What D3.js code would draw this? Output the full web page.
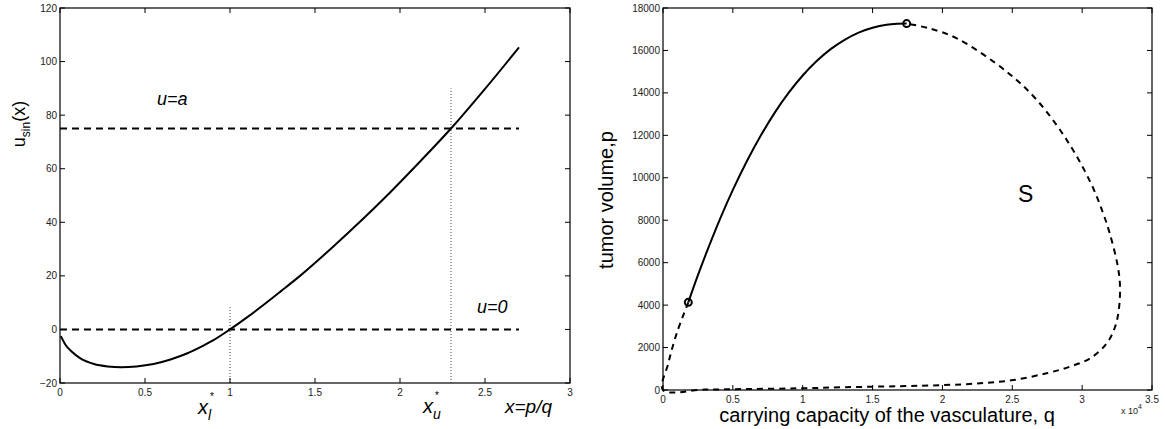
<!DOCTYPE html>
<html>
<head>
<meta charset="utf-8">
<script src="https://cdn.jsdelivr.net/npm/d3@7"></script>
<style>
  body { margin: 0; background: #fff; }
  svg { display: block; font-family: "Liberation Sans", Arial, sans-serif; }
  .tick-label { font-size: 10px; fill: #222; }
</style>
</head>
<body>
<div id="chart"></div>
<script>
// --- left panel data: singular control u_sin(x), x = p/q ---
const uSinX = [0.005, 0.03, 0.07, 0.12, 0.2, 0.28, 0.36, 0.45, 0.55, 0.65, 0.75, 0.82, 0.9, 1.0,
  1.1, 1.2, 1.3, 1.41, 1.6, 1.78, 1.9, 2.1, 2.3, 2.5, 2.7];
const uSinY = [-2.5, -5.5, -8.3, -10.8, -12.9, -13.8, -14.1, -13.8, -12.9, -11.2, -8.9, -6.8, -4.1, 0,
  4.5, 9.3, 14.3, 19.9, 30.5, 41.1, 48.5, 61.5, 75, 89.8, 105.3];
const levels = [75, 0];             // u = a, u = 0
const levelEnd = 2.7;
const xStars = [1, 2.3];            // x_l*, x_u*
const xStarTops = [8.5, 90];
const leftXTicks = [0, 0.5, 1, 1.5, 2, 2.5, 3];
const leftYTicks = [-20, 0, 20, 40, 60, 80, 100, 120];

// --- right panel data: singular arc in (q, p) ---
const solidQ = [1810, 2500, 3300, 4100, 5000, 6000, 7000, 8000, 9000, 10000, 11000, 12000, 13000, 14000,
  15000, 16000, 16800, 17440];
const solidP = [4130, 5410, 6790, 8090, 9430, 10780, 11990, 13070, 14010, 14820, 15500, 16060, 16500, 16840,
  17070, 17210, 17255, 17265];
const dashQ = [1810, 980, 380, 0, 3000, 6000, 9800, 13000, 16960, 20060, 22690, 25080, 27460, 29130, 30570,
  31760, 32360, 32650, 32700, 32510, 31975, 31490, 30630, 28900, 26750, 24600, 21030, 19000, 17440];
const dashP = [4130, 2670, 1260, 0, 20, 45, 80, 130, 180, 230, 315, 470, 790, 1100, 1490,
  2200, 2980, 3930, 5030, 5970, 7380, 8350, 9740, 11780, 13670, 15000, 16570, 17050, 17265];
const markQ = [1810, 17440];
const markP = [4130, 17265];
const rightXTicks = [0, 0.5, 1, 1.5, 2, 2.5, 3, 3.5];
const rightYTicks = [0, 2000, 4000, 6000, 8000, 10000, 12000, 14000, 16000, 18000];

const width = 1165, height = 429;
const svg = d3.select("#chart").append("svg")
  .attr("width", width).attr("height", height);

// draw a MATLAB-style box with inward ticks on all four sides
function box(g, x, y, xTicks, yTicks, xFmt, yFmt) {
  const [x0, x1] = x.range(), [y0, y1] = y.range();
  const tl = 5;
  g.append("rect")
    .attr("x", x0).attr("y", y1).attr("width", x1 - x0).attr("height", y0 - y1)
    .attr("fill", "none").attr("stroke", "#000").attr("stroke-width", 1.2);
  xTicks.forEach(t => {
    const px = x(t);
    g.append("line").attr("x1", px).attr("x2", px).attr("y1", y0).attr("y2", y0 - tl).attr("stroke", "#000");
    g.append("line").attr("x1", px).attr("x2", px).attr("y1", y1).attr("y2", y1 + tl).attr("stroke", "#000");
    g.append("text").attr("class", "tick-label")
      .attr("x", px).attr("y", y0 + 13).attr("text-anchor", "middle").text(xFmt(t));
  });
  yTicks.forEach(t => {
    const py = y(t);
    g.append("line").attr("x1", x0).attr("x2", x0 + tl).attr("y1", py).attr("y2", py).attr("stroke", "#000");
    g.append("line").attr("x1", x1).attr("x2", x1 - tl).attr("y1", py).attr("y2", py).attr("stroke", "#000");
    g.append("text").attr("class", "tick-label")
      .attr("x", x0 - 3).attr("y", py).attr("dy", "0.35em").attr("text-anchor", "end").text(yFmt(t));
  });
}

const fmtMinus = t => String(t).replace("-", "\u2212");

// === left panel ===
const xL = d3.scaleLinear().domain([0, 3]).range([60, 570]);
const yL = d3.scaleLinear().domain([-20, 120]).range([383, 8]);
const gL = svg.append("g");

levels.forEach(v => {
  gL.append("line")
    .attr("x1", xL(0)).attr("x2", xL(levelEnd)).attr("y1", yL(v)).attr("y2", yL(v))
    .attr("stroke", "#000").attr("stroke-width", 2).attr("stroke-dasharray", "7,5");
});
xStars.forEach((v, i) => {
  gL.append("line")
    .attr("x1", xL(v)).attr("x2", xL(v)).attr("y1", yL(-20)).attr("y2", yL(xStarTops[i]))
    .attr("stroke", "#444").attr("stroke-width", 1).attr("stroke-dasharray", "1,2");
});

const lineL = d3.line().x((d, i) => xL(uSinX[i])).y(d => yL(d)).curve(d3.curveMonotoneX);
gL.append("path").attr("d", lineL(uSinY))
  .attr("fill", "none").attr("stroke", "#000").attr("stroke-width", 2);

box(gL, xL, yL, leftXTicks, leftYTicks, d => String(d), fmtMinus);

gL.append("text").attr("x", 157).attr("y", 105).attr("font-size", 18).attr("font-style", "italic").text("u=a");
gL.append("text").attr("x", 477).attr("y", 313).attr("font-size", 18).attr("font-style", "italic").text("u=0");

const yLab = gL.append("text").attr("transform", "translate(25,124) rotate(-90)")
  .attr("text-anchor", "middle").attr("font-size", 18);
yLab.append("tspan").text("u");
yLab.append("tspan").attr("font-size", 12).attr("dy", 5).text("sin");
yLab.append("tspan").attr("dy", -5).text("(x)");

// x_l*, x_u*
function starLabel(x, y, sub) {
  const t = gL.append("text").attr("x", x).attr("y", y).attr("font-size", 20).attr("font-style", "italic");
  t.append("tspan").text("x");
  t.append("tspan").attr("font-size", 14).attr("dy", 6).text(sub);
  gL.append("text").attr("x", x + 12).attr("y", y - 14).attr("font-size", 10).text("*");
}
starLabel(198, 414, "l");
starLabel(423, 413, "u");
gL.append("text").attr("x", 505).attr("y", 413).attr("font-size", 19).attr("font-style", "italic").text("x=p/q");

// === right panel ===
const xR = d3.scaleLinear().domain([0, 35000]).range([663, 1152]);
const yR = d3.scaleLinear().domain([0, 18000]).range([390, 8]);
const gR = svg.append("g");

const lineR = d3.line().x(d => xR(d[0])).y(d => yR(d[1])).curve(d3.curveCatmullRom.alpha(0.5));
gR.append("path").attr("d", lineR(dashQ.map((q, i) => [q, dashP[i]])))
  .attr("fill", "none").attr("stroke", "#000").attr("stroke-width", 2).attr("stroke-dasharray", "6,5");
gR.append("path").attr("d", lineR(solidQ.map((q, i) => [q, solidP[i]])))
  .attr("fill", "none").attr("stroke", "#000").attr("stroke-width", 2);
gR.selectAll("circle.mark").data(markQ).join("circle")
  .attr("cx", d => xR(d)).attr("cy", (d, i) => yR(markP[i])).attr("r", 3.5)
  .attr("fill", "none").attr("stroke", "#000").attr("stroke-width", 2);

box(gR, xR, yR, rightXTicks.map(t => t * 10000), rightYTicks, d => String(d / 10000), d => String(d));

gR.append("text").attr("x", 1018).attr("y", 202).attr("font-size", 23).text("S");
gR.append("text").attr("transform", "translate(613,200) rotate(-90)")
  .attr("text-anchor", "middle").attr("font-size", 20).text("tumor volume,p");
gR.append("text").attr("x", 887).attr("y", 422).attr("text-anchor", "middle")
  .attr("font-size", 20).text("carrying capacity of the vasculature, q");
const sci = gR.append("text").attr("x", 1121).attr("y", 414).attr("font-size", 9).attr("fill", "#222");
sci.append("tspan").text("x 10");
sci.append("tspan").attr("font-size", 7).attr("dy", -5).text("4");
</script>
</body>
</html>
